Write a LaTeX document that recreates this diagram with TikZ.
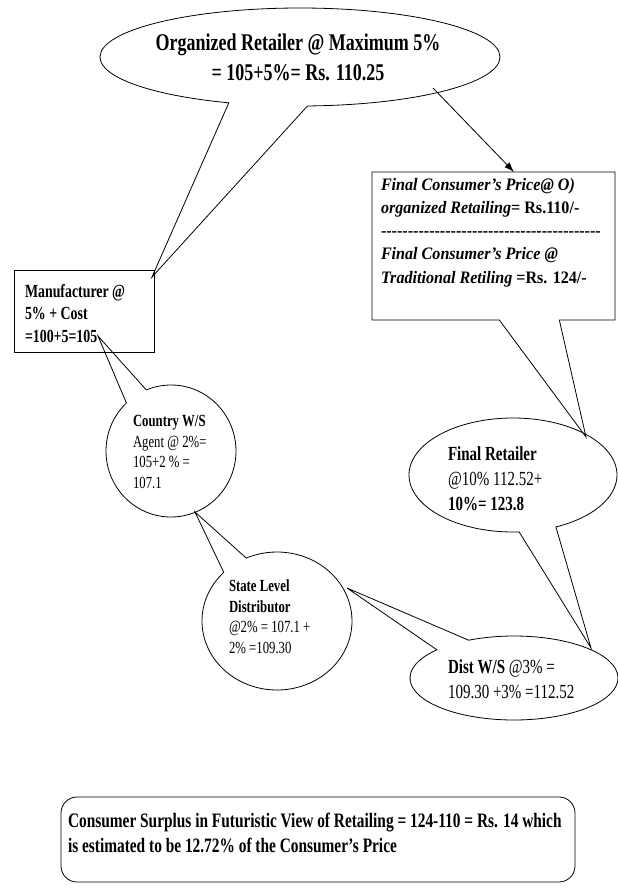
\documentclass[tikz,border=0pt]{standalone}
\usepackage{fontspec}
\setmainfont{Liberation Serif}[FakeStretch=0.75]
\newfontfamily\boxfont{Liberation Serif}[FakeStretch=0.92]
\usetikzlibrary{shapes.callouts, arrows.meta}

\begin{document}
\begin{tikzpicture}[x=1pt, y=-1pt, line width=0.8pt]
  \useasboundingbox (0,0) rectangle (618,892);
  \begin{scope}[every node/.style={inner sep=0, outer sep=0}, bubble/.style={ellipse callout, draw=black}, note/.style={rectangle callout, draw=black}, txt/.style={anchor=base west, align=left}]
    % shapes
    \node (org) [bubble, minimum width=400, minimum height=98, callout absolute pointer={(152,277)}, callout pointer arc=23] at (300,57) {};
    \node (maker) [draw, minimum width=140, minimum height=82] at (84,311) {};
    \node (country) [bubble, minimum width=130, minimum height=132, callout absolute pointer={(98,336)}, callout pointer arc=21] at (171,451) {};
    \node (state) [bubble, minimum width=150, minimum height=138, callout absolute pointer={(195,512)}, callout pointer arc=21] at (277,621) {};
    \node (dist) [bubble, minimum width=208, minimum height=84, callout absolute pointer={(347,588)}, callout pointer arc=22] at (514,678) {};
    \node (retail) [bubble, minimum width=208, minimum height=114, callout absolute pointer={(591,648)}, callout pointer arc=21] at (513,475) {};
    \node (price) [note, minimum width=243, minimum height=148, callout absolute pointer={(586,437)}, callout pointer width=60] at (493.5,246) {};
    \node (surplus) [draw, rounded corners=16, minimum width=514, minimum height=85] at (318,839.5) {};
    \coordinate (tail) at (433,88);
    \draw [-{Latex[length=10pt, width=7pt]}] (tail) -- ([xshift=20.5]price.north);
    % texts
    \node (orgtxt) [anchor=base, align=center, font=\fontsize{24}{30}\selectfont\bfseries] at (298,80) {Organized Retailer @ Maximum 5\%\\= 105+5\%= Rs. 110.25};
    \node (makertxt) [txt, font=\fontsize{18.5}{22.5}\selectfont\bfseries] at (25,342) {Manufacturer @\\5\% + Cost\\=100+5=105};
    \node (countrytxt) [txt, font=\fontsize{17}{20.5}\selectfont] at (133,488) {\textbf{Country W/S}\\Agent @ 2\%=\\105+2 \% =\\107.1};
    \node (statetxt) [txt, font=\fontsize{17}{20.5}\selectfont] at (229,653) {\textbf{State Level}\\\textbf{Distributor}\\@2\% = 107.1 +\\2\% =109.30};
    \node (disttxt) [txt, font=\fontsize{20}{25}\selectfont] at (448,698) {\textbf{Dist W/S} @3\% =\\109.30 +3\% =112.52};
    \node (retailtxt) [txt, font=\fontsize{20}{25}\selectfont] at (448,510) {\textbf{Final Retailer}\\@10\% 112.52+\\\textbf{10\%= 123.8}};
    \node (pricetxt) [txt, font=\boxfont\fontsize{17.5}{23.25}\selectfont\bfseries] at (381,283) {\textit{Final Consumer’s Price@ O)}\\\textit{organized Retailing}= Rs.110/-\\\foreach \i in {1,...,41}{\mbox{-}}\\\textit{Final Consumer’s Price @}\\\textit{Traditional Retiling} =Rs. 124/-};
    \node (surplustxt) [txt, font=\fontsize{20.5}{25}\selectfont\bfseries] at (68,852) {Consumer Surplus in Futuristic View of Retailing = 124-110 = Rs. 14 which\\is estimated to be 12.72\% of the Consumer’s Price};
  \end{scope}
\end{tikzpicture}
\end{document}
